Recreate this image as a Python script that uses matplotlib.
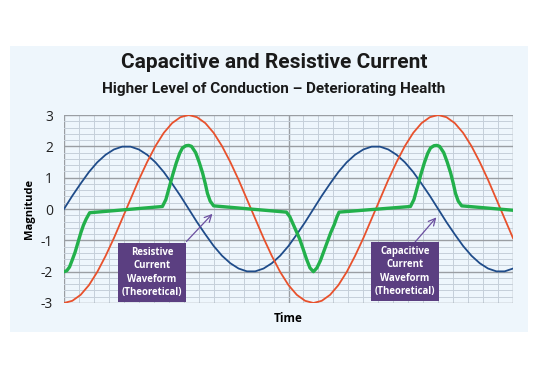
import matplotlib.pyplot as plt
import numpy as np
from matplotlib.patches import Rectangle

plt.rcParams['axes.unicode_minus'] = False
plt.rcParams['font.family'] = ['Open Sans', 'DejaVu Sans']

# phase in degrees, one sample every 12 deg
phase = np.arange(0, 649, 12)
blueWave = [0, 0.42, 0.81, 1.18, 1.49, 1.73, 1.90, 1.99, 1.99, 1.90, 1.73, 1.49, 1.18, 0.81, 0.42,
            0, -0.42, -0.81, -1.18, -1.49, -1.73, -1.90, -1.99, -1.99, -1.90, -1.73, -1.49, -1.18, -0.81, -0.42,
            0, 0.42, 0.81, 1.18, 1.49, 1.73, 1.90, 1.99, 1.99, 1.90, 1.73, 1.49, 1.18, 0.81, 0.42,
            0, -0.42, -0.81, -1.18, -1.49, -1.73, -1.90, -1.99, -1.99, -1.90]
redWave = [-3.00, -2.93, -2.74, -2.43, -2.01, -1.50, -0.93, -0.31, 0.31, 0.93, 1.50, 2.01, 2.43, 2.74, 2.93,
           3.00, 2.93, 2.74, 2.43, 2.01, 1.50, 0.93, 0.31, -0.31, -0.93, -1.50, -2.01, -2.43, -2.74, -2.93,
           -3.00, -2.93, -2.74, -2.43, -2.01, -1.50, -0.93, -0.31, 0.31, 0.93, 1.50, 2.01, 2.43, 2.74, 2.93,
           3.00, 2.93, 2.74, 2.43, 2.01, 1.50, 0.93, 0.31, -0.31, -0.93]

greenPhase = [0, 4, 8, 12, 16, 20, 24, 28, 32, 37,
              142, 147, 152, 157, 162, 167, 171, 176, 180, 184, 190, 195, 200, 204, 207, 211, 216,
              321, 326, 330, 335, 340, 345, 350, 355, 360, 365, 370, 375, 380, 385, 390, 394, 397,
              500, 505, 510, 515, 520, 525, 529, 534, 538, 542, 548, 553, 558, 562, 565, 569, 574,
              648]
greenWave = [-2.0, -1.97, -1.85, -1.62, -1.38, -1.08, -0.78, -0.52, -0.32, -0.12,
             0.08, 0.3, 0.7, 1.1, 1.47, 1.78, 1.95, 2.02, 2.03, 2.0, 1.8, 1.5, 1.15, 0.8, 0.5, 0.25, 0.1,
             -0.1, -0.25, -0.45, -0.7, -0.95, -1.27, -1.6, -1.88, -2.0, -1.88, -1.65, -1.35, -1.05, -0.75, -0.5, -0.25, -0.1,
             0.08, 0.3, 0.7, 1.1, 1.47, 1.78, 1.95, 2.02, 2.03, 2.0, 1.8, 1.5, 1.15, 0.8, 0.5, 0.25, 0.1,
             -0.04]

yTicks = [-3, -2, -1, 0, 1, 2, 3]

panelColor = '#eef6fc'

fig = plt.figure(figsize=(5.38, 3.79), dpi=100)
fig.patch.set_facecolor('white')
fig.patches.append(Rectangle((10 / 538, 1 - 332 / 379), 518 / 538, 286 / 379,
                             transform=fig.transFigure, fc=panelColor, ec='none', zorder=-5))

ax = fig.add_axes([64 / 538, 1 - 303 / 379, 449 / 538, 188 / 379])
ax.set_facecolor(panelColor)

ax.set_xlim(0, 648)
ax.set_ylim(-3, 3)
ax.set_xticks([0, 324, 648])
ax.set_xticks(np.arange(0, 649, 21.6), minor=True)
ax.set_yticks(yTicks)
ax.set_yticks(np.arange(-3, 3.01, 0.2), minor=True)
ax.set_yticklabels([str(t) for t in yTicks], fontsize=10, color='#222222')
ax.set_xticklabels([])
ax.tick_params(which='both', length=0)
ax.tick_params(axis='y', pad=8)
ax.grid(which='major', color='#9a9ea3', lw=1.0)
ax.grid(which='minor', color='#c5cfd9', lw=0.7)
ax.set_axisbelow(True)
for s in ax.spines.values():
    s.set_visible(False)

ax.plot(phase, blueWave, color='#1f4c8a', lw=1.3)
ax.plot(phase, redWave, color='#e8512c', lw=1.3)
ax.plot(greenPhase, greenWave, color='#22b04b', lw=2.4, solid_joinstyle='round')

ax.set_ylabel('Magnitude', fontsize=8, fontweight='bold', labelpad=4)
ax.set_xlabel('Time', fontsize=8.5, fontweight='bold', labelpad=3)

arrowStyle = dict(arrowstyle='->,head_length=0.5,head_width=0.25', color='#6b4fa0', lw=0.9)
ax.annotate('', xy=(217, -0.09), xytext=(174, -1.1), arrowprops=arrowStyle)
ax.annotate('', xy=(540, -0.2), xytext=(503, -1.15), arrowprops=arrowStyle)

boxStyle = dict(boxstyle='square,pad=0.42', fc='#5b3f81', ec='none')
ax.text(127, -2.03, 'Resistive\nCurrent\nWaveform\n(Theoretical)', ha='center', va='center',
        fontsize=6.9, color='white', fontweight='bold', linespacing=1.3, bbox=boxStyle)
ax.text(492, -2.0, 'Capacitive\nCurrent\nWaveform\n(Theoretical)', ha='center', va='center',
        fontsize=6.9, color='white', fontweight='bold', linespacing=1.3, bbox=boxStyle)

titleFont = ['Roboto', 'DejaVu Sans']
fig.text(274 / 538, 1 - 62 / 379, 'Capacitive and Resistive Current', ha='center', va='center',
         fontsize=15, fontweight='bold', family=titleFont, color='#1a1a1a')
fig.text(274 / 538, 1 - 89 / 379, 'Higher Level of Conduction \u2013 Deteriorating Health', ha='center',
         va='center', fontsize=11, fontweight='bold', family=titleFont, color='#1a1a1a')

fig.savefig('out.png', dpi=100)
